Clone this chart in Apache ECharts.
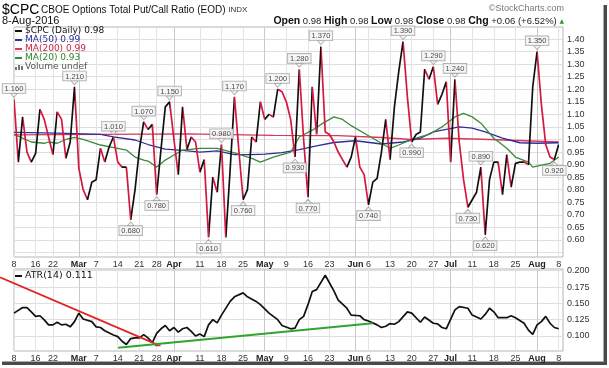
<!DOCTYPE html>
<html><head><meta charset="utf-8">
<script src="https://cdn.jsdelivr.net/npm/echarts@6/dist/echarts.min.js"></script>
<style>html,body{margin:0;padding:0;background:#fff}#c{width:609px;height:368px}</style>
</head><body><div id="c"></div>
<script>
// ---- trading days (categories) ----
const febDays = [8,9,10,11,12,16,17,18,19,22,23,24,25,26,29];
const marDays = [1,2,3,4,7,8,9,10,11,14,15,16,17,18,21,22,23,24,28,29,30,31];
const aprDays = [1,4,5,6,7,8,11,12,13,14,15,18,19,20,21,22,25,26,27,28,29];
const mayDays = [2,3,4,5,6,9,10,11,12,13,16,17,18,19,20,23,24,25,26,27,31];
const junDays = [1,2,3,6,7,8,9,10,13,14,15,16,17,20,21,22,23,24,27,28,29,30];
const julDays = [1,5,6,7,8,11,12,13,14,15,18,19,20,21,22,25,26,27,28,29];
const augDays = [1,2,3,4,5,8];

// ---- x tick labels ----
const tickDates = ['Feb 8','Feb 16','Feb 22','Mar 1','Mar 7','Mar 14','Mar 21','Mar 28','Apr 1','Apr 11','Apr 18','Apr 25','May 2','May 9','May 16','May 23','Jun 1','Jun 6','Jun 13','Jun 20','Jun 27','Jul 1','Jul 11','Jul 18','Jul 25','Aug 1','Aug 8'];
const tickTexts = ['8','16','22','Mar','7','14','21','28','Apr','11','18','25','May','9','16','23','Jun','6','13','20','27','Jul','11','18','25','Aug','8'];

// ---- y tick labels ----
const yGridMain = [0.55,0.60,0.65,0.70,0.75,0.80,0.85,0.90,0.95,1.00,1.05,1.10,1.15,1.20,1.25,1.30,1.35,1.40];
const yLabelsMain = [0.60,0.65,0.70,0.75,0.80,0.85,0.90,0.95,1.00,1.05,1.10,1.15,1.20,1.25,1.30,1.35,1.40];
const yLabelsAtr = [0.100,0.125,0.150,0.175,0.200];

// ---- $CPC daily close ----
const cpc = [1.16,0.91,1.09,0.95,0.91,0.945,1.12,1.08,1.01,0.94,
 1.11,1.08,0.925,0.99,1.21,0.885,0.80,0.76,0.83,0.84,
 0.965,0.91,0.97,1.01,0.91,0.89,0.89,0.68,0.80,0.96,
 1.07,1.04,1.06,0.78,0.96,1.13,1.15,1.00,0.86,1.13,
 0.96,1.01,0.99,0.87,0.92,0.61,0.85,0.79,0.98,0.61,
 0.88,1.17,0.96,0.76,0.80,1.01,0.99,1.15,1.08,1.10,
 1.09,1.20,1.19,1.15,1.08,0.93,1.28,1.00,0.77,1.21,
 1.02,1.37,1.03,1.02,0.99,0.95,0.92,0.89,0.93,1.01,
 0.89,0.86,0.74,0.83,0.845,0.95,1.08,0.92,1.13,1.27,
 1.39,1.17,0.99,1.02,1.03,1.28,1.24,1.29,1.14,1.18,
 1.23,0.91,1.24,0.99,0.84,0.73,0.76,0.79,0.89,0.62,
 0.84,0.91,0.91,0.78,0.94,0.81,0.905,0.91,0.91,0.90,
 1.21,1.35,1.14,0.98,0.93,0.92,0.98];

// callouts: index and side (t = above, b = below)
const calloutIdx  = [0,14,23,30,36,48,51,61,66,71,90,97,102,108,121, 27,33,45,53,65,68,82,92,105,109,125];
const calloutSide = ['t','t','t','t','t','t','t','t','t','t','t','t','t','t','t', 'b','b','b','b','b','b','b','b','b','b','b'];

// ---- moving averages [day index, value] ----
const ma50 = [[0,1.028],[10,1.025],[20,1.02],[23,1.01],[28,0.998],[31,0.98],[35,0.962],[39,0.957],[43,0.95],[47,0.955],[51,0.94],[55,0.94],[58,0.942],[62,0.948],[66,0.96],[70,0.975],[74,0.988],[79,0.995],[85,0.982],[90,0.99],[94,1.005],[97,1.03],[100,1.04],[103,1.05],[106,1.045],[109,1.03],[113,1.005],[117,0.987],[121,0.985],[126,0.987]];
const ma200 = [[0,1.018],[20,1.02],[40,1.022],[60,1.016],[75,1.015],[85,1.008],[92,1.0],[100,1.005],[110,1.0],[118,0.995],[126,0.99]];
const ma20 = [[0,1.02],[4,0.99],[7,0.985],[8,0.99],[10,0.985],[12,1.0],[14,1.008],[16,1.0],[20,0.978],[24,0.965],[26,0.958],[28,0.93],[30,0.918],[31,0.914],[33,0.89],[35,0.918],[37,0.938],[39,0.958],[43,0.965],[47,0.965],[51,0.947],[55,0.925],[57,0.91],[60,0.93],[64,0.95],[66,1.01],[69,1.037],[71,1.06],[74,1.09],[76,1.08],[78,1.055],[82,1.015],[85,0.985],[87,0.965],[89,0.978],[92,1.0],[96,1.02],[99,1.05],[102,1.09],[104,1.104],[106,1.09],[108,1.065],[111,1.005],[114,0.965],[116,0.93],[119,0.91],[120,0.89],[122,0.898],[124,0.905],[126,0.93]];

// ---- ATR(14) [day index, value] ----
const atr = [[0,0.135],[2,0.1435],[3,0.1435],[4,0.137],[5,0.130],[6,0.131],[7,0.1246],[8,0.117],[9,0.117],[10,0.121],[11,0.117],[12,0.118],[13,0.114],[14,0.122],[15,0.135],[16,0.126],[18,0.122],[19,0.114],[20,0.113],[21,0.108],[23,0.1015],[24,0.099],[25,0.092],[26,0.087],[27,0.096],[28,0.097],[29,0.097],[30,0.102],[31,0.097],[32,0.090],[33,0.104],[34,0.111],[35,0.116],[36,0.108],[37,0.113],[38,0.106],[39,0.111],[40,0.113],[41,0.107],[42,0.100],[43,0.103],[44,0.099],[45,0.117],[46,0.125],[47,0.120],[48,0.132],[50,0.153],[51,0.160],[53,0.166],[54,0.160],[56,0.153],[57,0.148],[59,0.135],[61,0.125],[62,0.116],[64,0.111],[65,0.112],[66,0.125],[67,0.130],[68,0.148],[69,0.168],[70,0.171],[72,0.193],[74,0.169],[75,0.155],[77,0.1425],[78,0.132],[80,0.131],[81,0.125],[82,0.123],[84,0.117],[85,0.113],[86,0.115],[87,0.119],[88,0.118],[89,0.122],[91,0.137],[92,0.135],[94,0.121],[95,0.129],[97,0.1195],[98,0.1185],[99,0.113],[100,0.111],[102,0.140],[103,0.145],[105,0.1425],[106,0.132],[108,0.126],[109,0.133],[110,0.1425],[111,0.137],[112,0.128],[114,0.128],[115,0.131],[116,0.128],[118,0.1195],[119,0.109],[120,0.1025],[121,0.117],[122,0.122],[123,0.130],[124,0.1195],[125,0.113],[126,0.111]];

// hand-drawn trendlines on ATR panel [day index, value]
const atrRedLine = [[-3.24,0.19],[33.0,0.0872]];
const atrRedTick = [[32.6,0.0855],[33.9,0.0855]];
const atrGreenLine = [[24.1,0.082],[83.0,0.1195]];

// ---------------- build ----------------
const monthDays = [['Feb',febDays],['Mar',marDays],['Apr',aprDays],['May',mayDays],['Jun',junDays],['Jul',julDays],['Aug',augDays]];
const cats = [];
monthDays.forEach(([m, ds]) => ds.forEach(d => cats.push(m + ' ' + d)));
cats.push('');
const NCAT = cats.length - 1;
const tickSet = new Set(tickDates);
const splitColors = tickTexts.map(t => /^[A-Z]/.test(t) ? '#c9c9c9' : '#e3e3e3');

const FONT = "'Liberation Sans', Arial, sans-serif";
const LFONT = "'DejaVu Sans', Verdana, sans-serif";

const PLOT_LEFT = 14, PLOT_W = 549;
const pxPerDay = PLOT_W / NCAT;

function xAx(gi) {
  return {
    type: 'category', gridIndex: gi, data: cats, boundaryGap: false,
    axisLine: {show: false}, axisTick: {show: false},
    axisLabel: {
      interval: (i, v) => tickSet.has(v),
      formatter: v => { const k = tickDates.indexOf(v); if (k < 0) return ''; const t = tickTexts[k]; return /^[A-Z]/.test(t) ? '{b|' + t + '}' : t; },
      fontSize: 9, color: '#333', margin: 3, fontFamily: FONT,
      rich: {b: {fontWeight: 'bold', fontSize: 9, color: '#222', fontFamily: FONT}}
    },
    splitLine: {show: true, interval: (i, v) => tickSet.has(v), lineStyle: {color: splitColors, width: 1}}
  };
}

const pieces = [];
for (let i = 0; i < cpc.length - 1; i++) {
  const color = cpc[i + 1] >= cpc[i] ? '#111111' : '#d3173f';
  const last = pieces[pieces.length - 1];
  if (last && last.color === color) last.lte = i + 1;
  else pieces.push(i === 0 ? {gte: 0, lte: i + 1, color} : {gt: i, lte: i + 1, color});
}

const callouts = calloutIdx.map((i, k) => {
  const top = calloutSide[k] === 't';
  return {
    value: [i, cpc[i]], symbol: 'triangle', symbolSize: [7, 4],
    symbolRotate: top ? 180 : 0, symbolOffset: [0, top ? -4 : 4],
    label: {position: top ? 'top' : 'bottom'}
  };
});

const legendItems = [
  {y: 31, c: '#111', tc: '#111', t: '$CPC (Daily) 0.98'},
  {y: 40, c: '#2d2d9c', tc: '#2d2d9c', t: 'MA(50) 0.99'},
  {y: 49, c: '#d8385a', tc: '#cc2244', t: 'MA(200) 0.99'},
  {y: 58, c: '#3a8a3a', tc: '#2f862f', t: 'MA(20) 0.93'}
];
const graphics = [];
legendItems.forEach(it => {
  graphics.push({type: 'line', shape: {x1: 15, y1: it.y, x2: 22, y2: it.y}, style: {stroke: it.c, lineWidth: 2}, z: 20});
  graphics.push({type: 'text', style: {text: it.t, x: 25, y: it.y, fill: it.tc, font: '9px ' + LFONT, verticalAlign: 'middle', textVerticalAlign: 'middle'}, z: 20});
});
[[15,3],[18,5],[21,4]].forEach(([x,h]) => graphics.push({type: 'rect', shape: {x: x, y: 70 - h, width: 2, height: h}, style: {fill: '#777'}, z: 20}));
graphics.push({type: 'text', style: {text: 'Volume undef', x: 25, y: 67, fill: '#555', font: '9px ' + LFONT, verticalAlign: 'middle', textVerticalAlign: 'middle'}, z: 20});
graphics.push({type: 'line', shape: {x1: 15, y1: 276, x2: 22, y2: 276}, style: {stroke: '#111', lineWidth: 2}, z: 20});
graphics.push({type: 'text', style: {text: 'ATR(14) 0.111', x: 25, y: 276, fill: '#111', font: '9.5px ' + LFONT, verticalAlign: 'middle', textVerticalAlign: 'middle'}, z: 20});
graphics.push({type: 'text', style: {text: '$CPC', x: 2, y: 10, fill: '#000', font: '14px ' + FONT, verticalAlign: 'middle', textVerticalAlign: 'middle'}});
graphics.push({type: 'text', style: {text: 'CBOE Options Total Put/Call Ratio (EOD) {s|INDX}', x: 41, y: 10, fill: '#111', font: "10px 'Liberation Sans Narrow', 'Liberation Sans', sans-serif", verticalAlign: 'middle', textVerticalAlign: 'middle', rich: {s: {fontSize: 8, fill: '#333', fontFamily: FONT}}}});
graphics.push({type: 'text', style: {text: '\u00A9StockCharts.com', x: 564, y: 9, fill: '#777', font: '9px ' + FONT, align: 'right', textAlign: 'right', verticalAlign: 'middle', textVerticalAlign: 'middle'}});
graphics.push({type: 'text', style: {text: '8-Aug-2016', x: 2, y: 21, fill: '#111', font: '11px ' + FONT, verticalAlign: 'middle', textVerticalAlign: 'middle'}});
graphics.push({type: 'text', style: {
  text: '{b|Open} 0.98 {b|High} 0.98 {b|Low} 0.98 {b|Close} 0.98 {b|Chg} +0.06 (+6.52%) {g|\u25B2}',
  x: 564, y: 21, fill: '#222', font: '9.5px ' + FONT, align: 'right', textAlign: 'right', verticalAlign: 'middle', textVerticalAlign: 'middle',
  rich: {b: {fontWeight: 'bold', fontSize: 10.5, fill: '#111', fontFamily: FONT}, g: {fontSize: 6, fill: '#2a9a2a', fontFamily: LFONT}}
}});
graphics.push({type: 'rect', shape: {x: 603, y: 5, width: 1, height: 358}, style: {fill: '#aaa'}});
graphics.push({type: 'rect', shape: {x: 604, y: 5, width: 3, height: 360}, style: {fill: '#4a4a4a'}});
graphics.push({type: 'rect', shape: {x: 2, y: 361, width: 602, height: 1}, style: {fill: '#aaa'}});
graphics.push({type: 'rect', shape: {x: 2, y: 362, width: 605, height: 3}, style: {fill: '#4a4a4a'}});

const chart = echarts.init(document.getElementById('c'), null, {renderer: 'canvas'});
chart.setOption({
  animation: false,
  backgroundColor: '#fff',
  grid: [
    {left: PLOT_LEFT, top: 27, width: PLOT_W, height: 230, show: true, borderColor: '#b5b5b5', borderWidth: 1, backgroundColor: '#fff'},
    {left: PLOT_LEFT, top: 269, width: PLOT_W, height: 82, show: true, borderColor: '#b5b5b5', borderWidth: 1, backgroundColor: '#fff'},
    // overlay grid for hand-drawn trendlines that reach the picture's left edge
    {left: 0, top: 269, width: PLOT_LEFT + PLOT_W, height: 82, show: false}
  ],
  xAxis: [xAx(0), xAx(1), {type: 'value', gridIndex: 2, min: -PLOT_LEFT / pxPerDay, max: NCAT, show: false}],
  yAxis: [
    {type: 'value', gridIndex: 0, position: 'right', min: 0.532, max: 1.448,
     axisLine: {show: false}, axisTick: {show: false, customValues: yGridMain},
     axisLabel: {customValues: yLabelsMain, formatter: v => v.toFixed(2), fontSize: 9, color: '#333', margin: 4, fontFamily: FONT},
     splitLine: {show: true, lineStyle: {color: '#dedede'}}},
    {type: 'value', gridIndex: 1, position: 'right', min: 0.077, max: 0.2026,
     axisLine: {show: false}, axisTick: {show: false, customValues: yLabelsAtr},
     axisLabel: {customValues: yLabelsAtr, formatter: v => v.toFixed(3), fontSize: 9, color: '#333', margin: 4, fontFamily: FONT},
     splitLine: {show: true, lineStyle: {color: '#dedede'}}},
    {type: 'value', gridIndex: 2, min: 0.077, max: 0.2026, show: false}
  ],
  visualMap: {type: 'piecewise', show: false, seriesIndex: 3, dimension: 0, pieces: pieces},
  series: [
    {type: 'line', name: 'MA200', xAxisIndex: 0, yAxisIndex: 0, data: ma200, showSymbol: false, lineStyle: {color: '#d8385a', width: 1.3}, z: 2},
    {type: 'line', name: 'MA50', xAxisIndex: 0, yAxisIndex: 0, data: ma50, showSymbol: false, lineStyle: {color: '#2d2d9c', width: 1.3}, z: 2},
    {type: 'line', name: 'MA20', xAxisIndex: 0, yAxisIndex: 0, data: ma20, showSymbol: false, lineStyle: {color: '#3a8a3a', width: 1.3}, z: 2},
    {type: 'line', name: 'CPC', xAxisIndex: 0, yAxisIndex: 0, data: cpc.map((v, i) => [i, v]), showSymbol: false, lineStyle: {width: 1.7}, z: 3},
    {type: 'scatter', name: 'callouts', xAxisIndex: 0, yAxisIndex: 0, data: callouts, clip: false, z: 10,
     itemStyle: {color: '#f4f4f4', borderColor: '#9a9a9a', borderWidth: 0.8},
     label: {show: true, distance: 0, formatter: p => p.value[1].toFixed(3), fontSize: 7.5, fontFamily: FONT, color: '#111',
       backgroundColor: '#f6f6f6', borderColor: '#9a9a9a', borderWidth: 0.8, padding: [1, 2, 0, 2], lineHeight: 8}},
    {type: 'line', name: 'ATR', xAxisIndex: 1, yAxisIndex: 1, data: atr, showSymbol: false, lineStyle: {color: '#111', width: 1.7}, z: 3},
    {type: 'line', name: 'redTrend', xAxisIndex: 2, yAxisIndex: 2, data: atrRedLine, showSymbol: false, clip: false, lineStyle: {color: '#e02424', width: 1.8}, z: 4},
    {type: 'line', name: 'redTick', xAxisIndex: 2, yAxisIndex: 2, data: atrRedTick, showSymbol: false, clip: false, lineStyle: {color: '#e02424', width: 1.5}, z: 4},
    {type: 'line', name: 'greenTrend', xAxisIndex: 2, yAxisIndex: 2, data: atrGreenLine, showSymbol: false, clip: false, lineStyle: {color: '#2fa52f', width: 2.2}, z: 4}
  ],
  graphic: graphics
});
</script></body></html>
